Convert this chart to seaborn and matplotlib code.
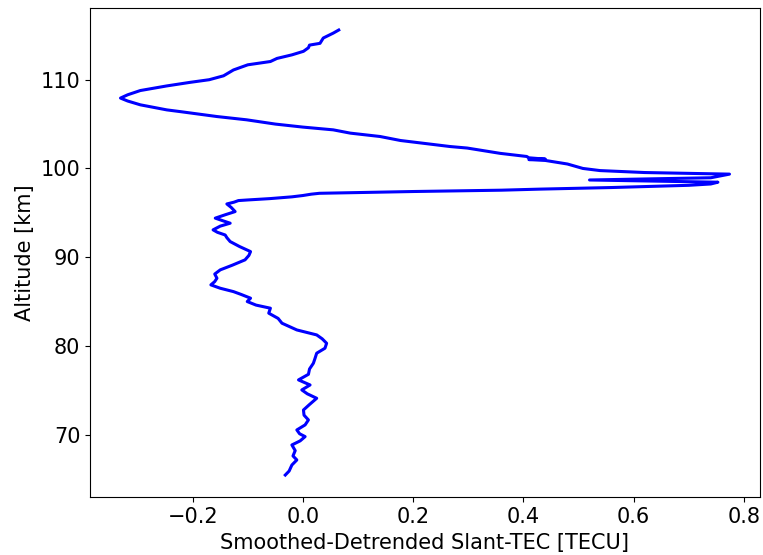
import numpy as np
import pandas as pd
import seaborn as sns
import matplotlib
matplotlib.use("Agg")
import matplotlib.pyplot as plt

# altitude [km] and smoothed-detrended slant TEC [TECU]
altitude = [65.45, 65.9, 66.58, 67.15, 67.6, 68.2, 68.84, 69.3, 69.78, 70.1,
            70.53, 71.1, 71.66, 72.2, 72.78, 73.4, 74.1, 74.6, 75.04, 75.6,
            76.17, 76.8, 77.4, 78.05, 78.6, 79.18, 79.74, 80.3, 80.8, 81.24,
            81.8, 82.56, 83.1, 83.69, 84.25, 84.6, 85.0, 85.38, 85.8, 86.12,
            86.5, 86.88, 87.25, 87.63, 88.1, 88.57, 89.1, 89.7, 90.2, 90.63,
            91.2, 91.76, 92.2, 92.5, 92.8, 93.08, 93.5, 93.83, 94.1, 94.4,
            94.8, 95.14, 95.6, 96.0, 96.2, 96.38, 96.45, 96.6, 96.8, 96.95,
            97.1, 97.2, 97.4, 97.55, 97.67, 97.85, 98.1, 98.25, 98.45, 98.7,
            98.95, 99.36, 99.54, 99.76, 100.0, 100.5, 100.8, 100.9, 101.0, 101.05,
            101.2, 101.35, 101.7, 102.3, 102.47, 103.15, 103.6, 103.98, 104.35, 104.66,
            105.0, 105.48, 105.85, 106.4, 106.6, 107.17, 107.6, 107.93, 108.3, 108.78,
            109.3, 109.7, 110.0, 110.44, 111.1, 111.68, 112.05, 112.4, 112.8, 113.2,
            113.6, 113.9, 114.1, 114.7, 115.25, 115.6]
tec = [-0.032, -0.025, -0.020, -0.011, -0.018, -0.014, -0.020, -0.005, 0.004, -0.006,
       -0.011, 0.004, 0.010, 0.002, 0.001, 0.012, 0.025, 0.008, -0.002, 0.013,
       -0.008, 0.010, 0.012, 0.019, 0.022, 0.025, 0.040, 0.043, 0.035, 0.025,
       -0.011, -0.038, -0.045, -0.062, -0.059, -0.085, -0.101, -0.095, -0.112, -0.126,
       -0.150, -0.167, -0.160, -0.156, -0.160, -0.150, -0.128, -0.105, -0.098, -0.095,
       -0.115, -0.132, -0.138, -0.141, -0.155, -0.163, -0.150, -0.132, -0.145, -0.159,
       -0.140, -0.123, -0.130, -0.138, -0.125, -0.117, -0.100, -0.060, -0.020, 0.000,
       0.015, 0.030, 0.200, 0.360, 0.430, 0.560, 0.700, 0.740, 0.753, 0.520,
       0.740, 0.774, 0.620, 0.539, 0.508, 0.480, 0.450, 0.440, 0.410, 0.440,
       0.410, 0.406, 0.358, 0.298, 0.267, 0.177, 0.140, 0.086, 0.055, 0.000,
       -0.050, -0.102, -0.156, -0.222, -0.247, -0.295, -0.318, -0.331, -0.318, -0.295,
       -0.247, -0.205, -0.170, -0.144, -0.126, -0.100, -0.059, -0.047, -0.020, 0.001,
       0.010, 0.012, 0.031, 0.037, 0.055, 0.065]

df = pd.DataFrame({"tec": tec, "alt": altitude})

fig, ax = plt.subplots(figsize=(7.63, 5.55), dpi=100)
plt.subplots_adjust(left=0.118, right=0.996, top=0.986, bottom=0.104)

sns.lineplot(data=df, x="tec", y="alt", sort=False, estimator=None,
             color="blue", linewidth=2.2, ax=ax)

ax.set_xlabel("Smoothed-Detrended Slant-TEC [TECU]", fontsize=15)
ax.set_ylabel("Altitude [km]", fontsize=15)
ax.tick_params(labelsize=15)

plt.savefig("out.png", dpi=100)
